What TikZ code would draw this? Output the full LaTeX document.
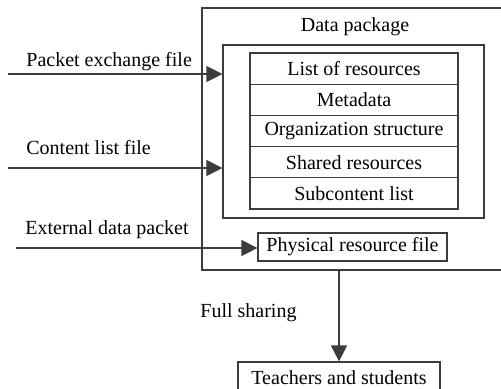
\documentclass[tikz,border=0pt]{standalone}
\usepackage{fontspec}
\setmainfont{Liberation Serif}
\usepackage{tikz}
\usetikzlibrary{shapes,arrows.meta,positioning}
\definecolor{lgray}{RGB}{60, 60, 60}
\tikzstyle{box} = [rectangle, draw=lgray, line width=0.6pt, fill=none, text=black, text centered, font=\normalsize, inner sep=0pt]
\tikzstyle{row} = [box, minimum width=104pt, minimum height=15.6pt]
\tikzstyle{textonly} = [draw=none, fill=none, text=black, font=\normalsize, inner sep=0pt]
\tikzstyle{tedge} = [draw=lgray, line width=0.6pt, -{Triangle[length=8pt,width=8pt]}]

\begin{document}
\begin{tikzpicture}[x=0.5pt, y=-0.5pt]
\useasboundingbox (0,0) rectangle (501,388);
\clip (0,0) rectangle (501,388);

% boxes =============================
\node[box, minimum width=154pt, minimum height=131pt] (pkg) at (356,139) {};
\node[textonly] (pkgtitle) at (355,27) {Data package};
\node[box, minimum width=130.5pt, minimum height=86.5pt] (inner) at (353.5,131.5) {};
\node[row] (r1) at (354,68.6) {List of resources};
\node[row, below=-0.6pt of r1] (r2) {Metadata};
\node[row, below=-0.6pt of r2] (r3) {Organization structure};
\node[row, below=-0.6pt of r3] (r4) {Shared resources};
\node[row, below=-0.6pt of r4] (r5) {Subcontent list};
\node[box, minimum width=94.5pt, minimum height=14pt] (phys) at (352.5,247) {Physical resource file};
\node[box, minimum width=101pt, minimum height=16pt] (tea) at (339,378) {Teachers and students};

% labels
\node[textonly, anchor=west] (lpacket) at (26,62) {Packet exchange file};
\node[textonly, anchor=west] (lcontent) at (26,148) {Content list file};
\node[textonly, anchor=west] (lextern) at (25,230) {External data packet};
\node[textonly, anchor=west] (lshare) at (200,313) {Full sharing};

% edges
\coordinate (pin) at (8,74);
\coordinate (cin) at (8,168);
\coordinate (ein) at (16,248);
\path[tedge] (pin) -- (inner.west |- pin);
\path[tedge] (cin) -- (inner.west |- cin);
\path[tedge] (ein) -- (phys.west |- ein);
\path[tedge] (pkg.south -| tea.north) -- (tea.north);

\end{tikzpicture}
\end{document}
